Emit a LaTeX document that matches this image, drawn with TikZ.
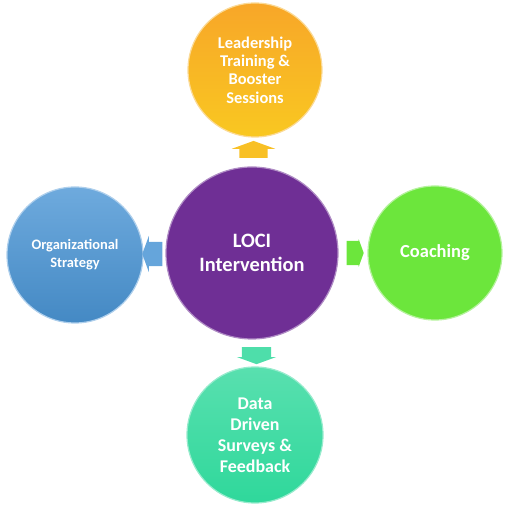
\documentclass[tikz,border=0pt]{standalone}
\usepackage{fontspec}
\setmainfont{Carlito}
\usetikzlibrary{positioning, shapes, shapes.arrows, calc}
\definecolor{loci_purple}{HTML}{6F2F95}
\definecolor{loci_gold}{HTML}{F7B52C}
\definecolor{loci_blue}{HTML}{4A95D5}
\definecolor{loci_green}{HTML}{6CE63C}
\definecolor{loci_teal}{HTML}{2FD89B}
\tikzset{
  bubble/.style = {circle, align=center, inner sep=0pt, text=white,
    line width=1.2bp},
  bub_c/.style = {bubble, minimum size=172bp, fill=loci_purple,
    draw=loci_purple!55!white,
    font=\bfseries\fontsize{20.5}{24}\selectfont},% centre, intervention
  bub_t/.style = {bubble, minimum size=134bp, top color=loci_gold!92!red,
    bottom color=loci_gold!75!yellow, draw=loci_gold!50!white,
    font=\bfseries\fontsize{16.5}{18.5}\selectfont},% top
  bub_l/.style = {bubble, minimum size=136bp, top color=loci_blue!80!white,
    bottom color=loci_blue!92!black, draw=loci_blue!45!white,
    font=\bfseries\fontsize{14.5}{18}\selectfont},% left
  bub_r/.style = {bubble, minimum size=134bp, fill=loci_green,
    draw=loci_green!50!white,
    font=\bfseries\fontsize{18.5}{21}\selectfont},% right
  bub_b/.style = {bubble, minimum size=136bp, top color=loci_teal!80!white,
    bottom color=loci_teal, draw=loci_teal!50!white,
    font=\bfseries\fontsize{18}{21}\selectfont},% bottom
  blk/.style = {single arrow, draw=none, inner sep=0pt,
    single arrow tip angle=140}% block arrow, shaft set by the rule
}

\begin{document}
\begin{tikzpicture}[x=1bp, y=1bp]
\useasboundingbox (0,0) rectangle (507,505);
\node [bub_c] (loci) at (252,252) {LOCI\\Intervention};
\node [bub_t] (lead) at (255,435) {Leadership\\Training \&\\Booster\\Sessions};
\node [bub_l] (org)  at (75,250)  {Organizational\\Strategy};
\node [bub_r] (coach) at (435,252) {Coaching};
\node [bub_b] (data) at (255,70)  {Data\\Driven\\Surveys \&\\Feedback};
% block arrows from the centre
\node [blk, fill=loci_gold!85!yellow, minimum height=17bp,
  single arrow head extend=7.5bp, rotate=90]
  (a_lead) at ($(loci.north)!0.5!(lead.south)$) {\rule{0pt}{28bp}};
\node [blk, fill=loci_blue!85!white, minimum height=20bp,
  single arrow head extend=6bp, rotate=180]
  (a_org) at ($(loci.west)!0.5!(org.east)$) {\rule{0pt}{24bp}};
\node [blk, fill=loci_green, minimum height=17bp,
  single arrow head extend=1.5bp]
  (a_coach) at ($(loci.east)!0.5!(coach.west)$) {\rule{0pt}{24bp}};
\node [blk, fill=loci_teal!85!white, minimum height=17bp,
  single arrow head extend=5bp, rotate=270]
  (a_data) at ($(loci.south)!0.5!(data.north)+(3,0)$) {\rule{0pt}{29bp}};
\end{tikzpicture}
\end{document}
